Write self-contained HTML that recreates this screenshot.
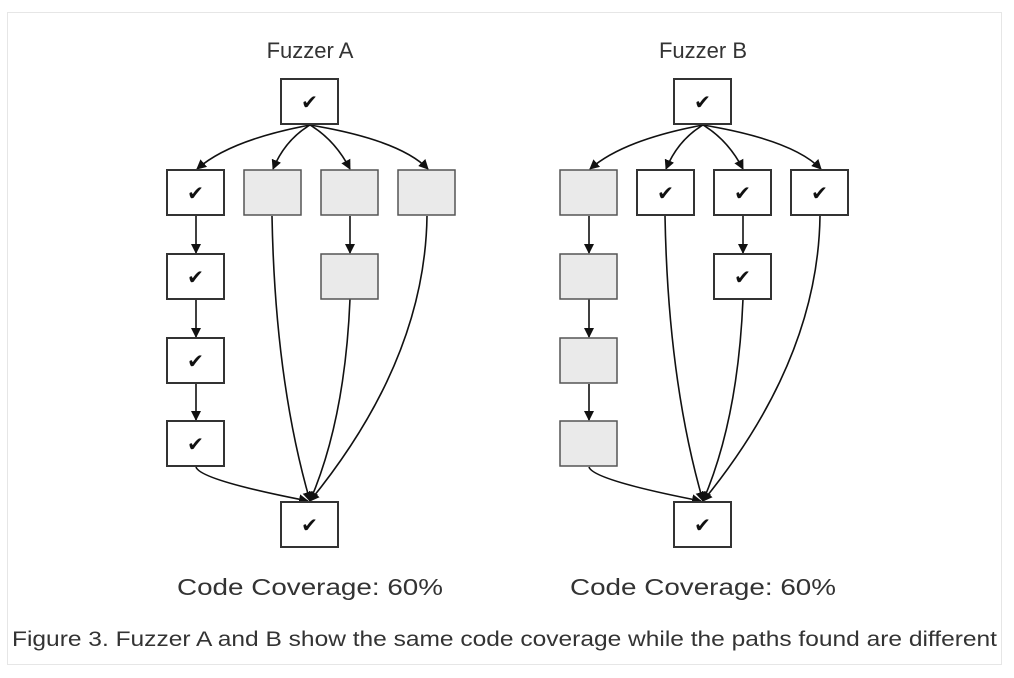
<!DOCTYPE html>
<html><head><meta charset="utf-8"><style>
html,body{margin:0;padding:0;background:#fff;}
svg{display:block;font-family:"Liberation Sans",sans-serif;}
</style></head><body>
<svg width="1014" height="678" viewBox="0 0 1014 678" xmlns="http://www.w3.org/2000/svg">
<defs>
<marker id="ah" markerWidth="10" markerHeight="10" refX="9" refY="5" orient="auto" markerUnits="userSpaceOnUse">
<path d="M0,0 L10,5 L0,10 z" fill="#111"/></marker>
<g id="ck"><rect x="0" y="0" width="57" height="45" fill="#fff" stroke="#333" stroke-width="2"/><text x="28.5" y="30" text-anchor="middle" font-size="20" font-family="DejaVu Sans,sans-serif" fill="#111">✔</text></g>
<g id="gy"><rect x="0" y="0" width="57" height="45" fill="#eaeaea" stroke="#555" stroke-width="1.5"/></g>
</defs>
<rect x="7.5" y="12.5" width="994" height="652" fill="#fff" stroke="#e6e6e6" stroke-width="1"/>
<text x="12" y="646" font-size="21" fill="#333" textLength="985" lengthAdjust="spacingAndGlyphs">Figure 3. Fuzzer A and B show the same code coverage while the paths found are different</text>

<!-- Fuzzer A -->
<g>
<text x="310" y="58" text-anchor="middle" font-size="22" fill="#333">Fuzzer A</text>
<text x="177" y="595" font-size="23" fill="#333" textLength="266" lengthAdjust="spacingAndGlyphs">Code Coverage: 60%</text>
<g fill="none" stroke="#111" stroke-width="1.6" marker-end="url(#ah)">
<path d="M310,125 Q230,140 197,169"/>
<path d="M310,125 Q285,140 273,169"/>
<path d="M310,125 Q335,140 350,169"/>
<path d="M310,125 Q400,140 428,169"/>
<path d="M196,216 L196,253"/>
<path d="M196,299 L196,337"/>
<path d="M196,384 L196,420"/>
<path d="M350,216 L350,253"/>
<path d="M196,467 Q200,480 308,501"/>
<path d="M272,216 Q275,380 310,501"/>
<path d="M350,299 Q345,420 310,501"/>
<path d="M427,216 Q425,360 310,501"/>
</g>
<use href="#ck" x="281" y="79"/>
<use href="#ck" x="167" y="170"/>
<use href="#gy" x="244" y="170"/>
<use href="#gy" x="321" y="170"/>
<use href="#gy" x="398" y="170"/>
<use href="#ck" x="167" y="254"/>
<use href="#gy" x="321" y="254"/>
<use href="#ck" x="167" y="338"/>
<use href="#ck" x="167" y="421"/>
<use href="#ck" x="281" y="502"/>
</g>

<!-- Fuzzer B -->
<g transform="translate(393,0)">
<text x="310" y="58" text-anchor="middle" font-size="22" fill="#333">Fuzzer B</text>
<text x="177" y="595" font-size="23" fill="#333" textLength="266" lengthAdjust="spacingAndGlyphs">Code Coverage: 60%</text>
<g fill="none" stroke="#111" stroke-width="1.6" marker-end="url(#ah)">
<path d="M310,125 Q230,140 197,169"/>
<path d="M310,125 Q285,140 273,169"/>
<path d="M310,125 Q335,140 350,169"/>
<path d="M310,125 Q400,140 428,169"/>
<path d="M196,216 L196,253"/>
<path d="M196,299 L196,337"/>
<path d="M196,384 L196,420"/>
<path d="M350,216 L350,253"/>
<path d="M196,467 Q200,480 308,501"/>
<path d="M272,216 Q275,380 310,501"/>
<path d="M350,299 Q345,420 310,501"/>
<path d="M427,216 Q425,360 310,501"/>
</g>
<use href="#ck" x="281" y="79"/>
<use href="#gy" x="167" y="170"/>
<use href="#ck" x="244" y="170"/>
<use href="#ck" x="321" y="170"/>
<use href="#ck" x="398" y="170"/>
<use href="#gy" x="167" y="254"/>
<use href="#ck" x="321" y="254"/>
<use href="#gy" x="167" y="338"/>
<use href="#gy" x="167" y="421"/>
<use href="#ck" x="281" y="502"/>
</g>
</svg>
</body></html>
